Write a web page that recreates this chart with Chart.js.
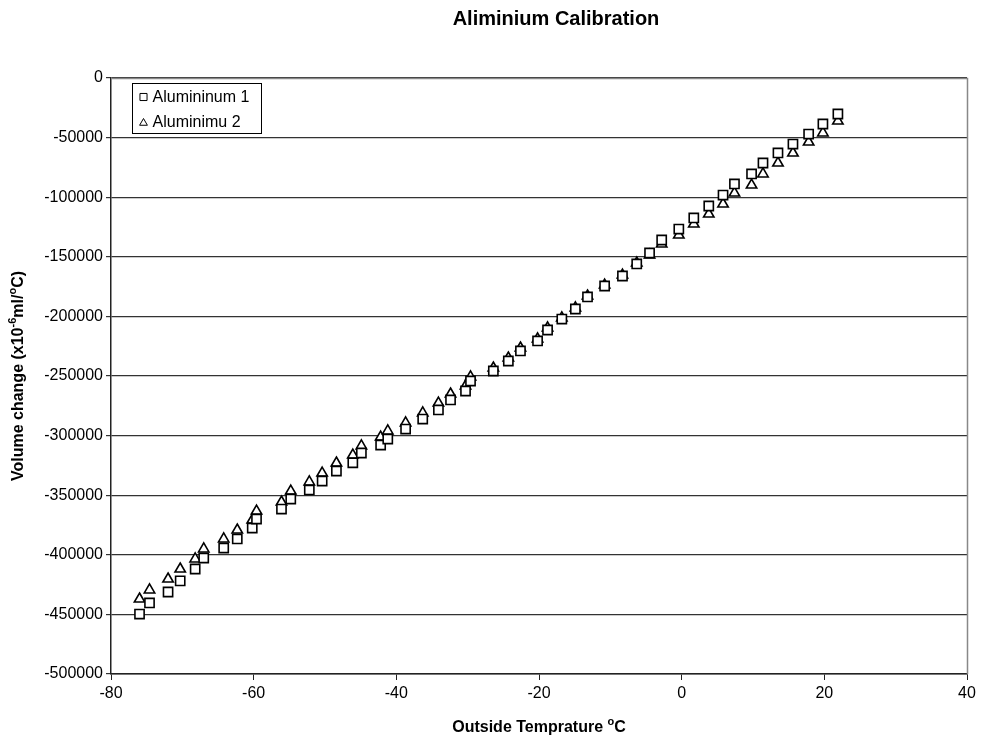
<!DOCTYPE html>
<html>
<head>
<meta charset="utf-8">
<script src="https://cdn.jsdelivr.net/npm/chart.js@4/dist/chart.umd.min.js"></script>
<style>
  html, body { margin: 0; padding: 0; background: #fff; }
  #wrap { width: 982px; height: 744px; }
</style>
</head>
<body>
<div id="wrap"><canvas id="c" width="982" height="744"></canvas></div>
<script>
const chartTitle = 'Aliminium Calibration';
const seriesNames = ['Alumininum 1', 'Aluminimu 2'];
const temps = [-76.0, -74.6, -72.0, -70.3, -68.2, -67.0, -64.2, -62.3, -60.2, -59.6,
  -56.1, -54.8, -52.2, -50.4, -48.4, -46.1, -44.9, -42.2, -41.2, -38.7,
  -36.3, -34.1, -32.4, -30.3, -29.6, -26.4, -24.3, -22.6, -20.2, -18.8,
  -16.8, -14.9, -13.2, -10.8, -8.3, -6.3, -4.5, -2.8, -0.4, 1.7,
  3.8, 5.8, 7.4, 9.8, 11.4, 13.5, 15.6, 17.8, 19.8, 21.9];
const alum1 = [-449700, -440400, -431200, -421900, -411900, -402700, -394300, -386700, -377500, -370000,
  -361600, -353200, -345600, -338100, -329700, -322800, -314600, -307900, -302900, -294500,
  -286100, -278500, -270100, -262600, -254200, -245800, -237400, -229000, -220600, -211400,
  -202200, -193800, -183700, -174500, -166100, -156000, -146800, -135900, -126700, -117400,
  -107400, -98200, -88900, -80500, -71300, -62900, -55400, -47000, -38600, -30200];
const alum2 = [-437100, -429500, -420300, -411900, -403500, -395100, -386700, -379200, -370800, -363300,
  -355700, -346500, -338900, -331400, -323000, -316300, -308700, -301200, -296100, -289400,
  -281000, -272700, -265100, -258400, -250800, -243300, -234900, -226500, -218900, -209700,
  -201300, -192900, -182900, -173700, -165300, -155200, -148500, -139300, -131700, -122500,
  -114100, -105700, -96500, -89800, -80500, -71300, -62900, -53700, -46100, -36100];
const xRange = [-80, 40, 20];
const yRange = [-500000, 0, 50000];
const yTitleParts = [['Volume change (x10', false], ['-6', true], ['ml/', false], ['o', true], ['C)', false]];
const xTitleParts = [['Outside Temprature ', false], ['o', true], ['C', false]];

const FONT = '"Liberation Sans", Arial, Helvetica, sans-serif';
Chart.defaults.font.family = FONT;
Chart.defaults.color = '#000';

function drawRich(ctx, parts, size, supSize) {
  // draws centred at (0,0), baseline-middle
  let total = 0;
  const widths = parts.map(([t, sup]) => {
    ctx.font = 'bold ' + (sup ? supSize : size) + 'px ' + FONT;
    const w = ctx.measureText(t).width; total += w; return w;
  });
  let x = -total / 2;
  parts.forEach(([t, sup], i) => {
    ctx.font = 'bold ' + (sup ? supSize : size) + 'px ' + FONT;
    ctx.textAlign = 'left';
    ctx.textBaseline = 'middle';
    ctx.fillText(t, x, sup ? -size * 0.38 : 0);
    x += widths[i];
  });
}

const decor = {
  id: 'decor',
  afterDraw(chart) {
    const ctx = chart.ctx;
    const a = chart.chartArea;
    ctx.save();
    // plot border top/right
    ctx.strokeStyle = '#888';
    ctx.lineWidth = 1.5;
    ctx.beginPath();
    ctx.moveTo(a.left, a.top + 0.5);
    ctx.lineTo(a.right + 0.5, a.top + 0.5);
    ctx.lineTo(a.right + 0.5, a.bottom);
    ctx.stroke();
    // title
    ctx.fillStyle = '#000';
    ctx.font = 'bold 20px ' + FONT;
    ctx.textAlign = 'center';
    ctx.textBaseline = 'alphabetic';
    ctx.fillText(chartTitle, 556, 25);
    // x title
    ctx.save();
    ctx.translate((a.left + a.right) / 2, 728);
    drawRich(ctx, xTitleParts, 16, 11);
    ctx.restore();
    // y title
    ctx.save();
    ctx.translate(19, (a.top + a.bottom) / 2);
    ctx.rotate(-Math.PI / 2);
    drawRich(ctx, yTitleParts, 16, 11);
    ctx.restore();
    // legend
    const lx = a.left + 21.5, ly = a.top + 5.5;
    ctx.fillStyle = '#fff';
    ctx.fillRect(lx, ly, 129, 50);
    ctx.strokeStyle = '#000';
    ctx.lineWidth = 1;
    ctx.strokeRect(lx, ly, 129, 50);
    chart.data.datasets.forEach((ds, i) => {
      const my = ly + 13.5 + i * 25;
      ctx.fillStyle = '#fff';
      ctx.strokeStyle = '#000';
      Chart.helpers.drawPoint(ctx, { pointStyle: ds.pointStyle, radius: ds.pointStyle === 'rect' ? 5 : 4.5, borderWidth: 1.3, rotation: 0 }, lx + 11, my + (ds.pointStyle === 'triangle' ? 1 : 0));
      ctx.fillStyle = '#000';
      ctx.font = '16px ' + FONT;
      ctx.textAlign = 'left';
      ctx.textBaseline = 'middle';
      ctx.fillText(ds.label, lx + 20, my + 1);
    });
    ctx.restore();
  }
};

new Chart(document.getElementById('c'), {
  type: 'scatter',
  data: {
    datasets: [
      {
        label: seriesNames[0],
        data: temps.map((t, i) => ({ x: t, y: alum1[i] })),
        pointStyle: 'rect', pointRadius: 6.5,
        borderColor: '#000', backgroundColor: '#fff', pointBorderWidth: 1.6
      },
      {
        label: seriesNames[1],
        data: temps.map((t, i) => ({ x: t, y: alum2[i] })),
        pointStyle: 'triangle', pointRadius: 6,
        borderColor: '#000', backgroundColor: '#fff', pointBorderWidth: 1.6
      }
    ]
  },
  options: {
    responsive: false,
    animation: false,
    devicePixelRatio: 1,
    layout: { padding: { left: 0, top: 78, right: 15, bottom: 0 } },
    plugins: { legend: { display: false }, title: { display: false }, tooltip: { enabled: false } },
    scales: {
      x: {
        type: 'linear', min: xRange[0], max: xRange[1],
        afterFit(s) { s.height = 70; },
        ticks: { stepSize: xRange[2], font: { size: 16 }, color: '#000', padding: 4, maxRotation: 0 },
        grid: { drawOnChartArea: false, drawTicks: true, tickLength: 6, color: '#222', lineWidth: 1 },
        border: { color: '#222', width: 1.5 }
      },
      y: {
        type: 'linear', min: yRange[0], max: yRange[1],
        afterFit(s) { s.width = 111; },
        ticks: { stepSize: yRange[2], font: { size: 16 }, color: '#000', padding: 3, callback: v => String(v) },
        grid: { drawOnChartArea: true, drawTicks: true, tickLength: 5, color: '#333', lineWidth: 1.2 },
        border: { color: '#222', width: 1.5 }
      }
    }
  },
  plugins: [decor]
});
</script>
</body>
</html>
